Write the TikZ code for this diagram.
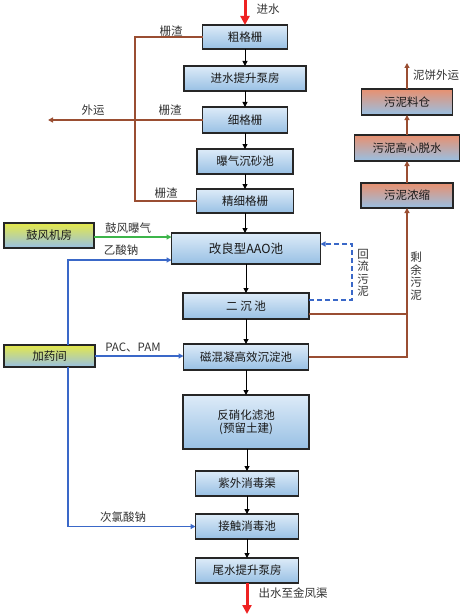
\documentclass[tikz,border=0pt]{standalone}
\usepackage{fontspec}
\setmainfont{Noto Sans CJK SC}
\usetikzlibrary{arrows.meta,calc}
\definecolor{bx}{HTML}{262626}
\definecolor{lbl}{HTML}{333333}
\definecolor{bl1}{HTML}{DDEBF8}
\definecolor{bl2}{HTML}{98C0E4}
\definecolor{org}{HTML}{E8906F}
\definecolor{ylw}{HTML}{E4E84A}
\definecolor{brn}{HTML}{9A4E32}
\definecolor{grn}{HTML}{3DB54A}
\definecolor{blu}{HTML}{3A68C8}
\definecolor{rd}{HTML}{EE2222}
\begin{document}
\begin{tikzpicture}[x=1pt,y=-1pt,
  box/.style={draw=bx,line width=1.3pt,top color=bl1,bottom color=bl2,
    inner sep=0pt,outer sep=0pt,text=black!90,font=\fontsize{11.5}{13}\selectfont},
  sbox/.style={box,top color=org,middle color=bl1!70!bl2,bottom color=bl2},
  ybox/.style={box,top color=ylw,middle color=ylw!50!bl2,bottom color=bl2},
  lab/.style={text=lbl,inner sep=0pt,font=\fontsize{11.5}{12.5}\selectfont},
  flow/.style={draw=black,line width=1pt,-{Triangle[length=5pt,width=5pt]}},
  brl/.style={draw=brn,line width=1.2pt},
  bra/.style={brl,-{Triangle[length=5pt,width=5pt]}},
  bla/.style={draw=blu,line width=1.2pt,-{Triangle[length=5pt,width=5pt]}},
  red/.style={draw=rd,line width=3pt,-{Triangle[length=9pt,width=9pt]}}]
\useasboundingbox (0,0) rectangle (472,615);
% main column
\node[box,minimum width=85pt,minimum height=24pt] (cgs) at (245,37) {粗格栅};
\node[box,minimum width=122pt,minimum height=25pt] (tsbf) at (245,78.5) {进水提升泵房};
\node[box,minimum width=85pt,minimum height=26pt] (xgs) at (245,120) {细格栅};
\node[box,minimum width=96pt,minimum height=25pt] (cs) at (245,161.5) {曝气沉砂池};
\node[box,minimum width=97pt,minimum height=24pt] (jxgs) at (245,201) {精细格栅};
\node[box,minimum width=149pt,minimum height=31pt,font=\fontsize{12.5}{14}\selectfont] (aao) at (246,248.5) {改良型AAO池};
\node[box,minimum width=126pt,minimum height=26pt] (ecc) at (246,306) {二\ 沉\ 池};
\node[box,minimum width=125pt,minimum height=26pt] (chn) at (246,357) {磁混凝高效沉淀池};
\node[box,minimum width=126pt,minimum height=54pt,align=center] (fxh) at (246,422) {反硝化滤池\\(预留土建)};
\node[box,minimum width=103pt,minimum height=25pt] (zw) at (247,483.5) {紫外消毒渠};
\node[box,minimum width=103pt,minimum height=25pt] (jc) at (247,526.5) {接触消毒池};
\node[box,minimum width=103pt,minimum height=25pt] (ws) at (247,570.5) {尾水提升泵房};
% left boxes
\node[ybox,minimum width=90pt,minimum height=25pt] (gf) at (49,235.5) {鼓风机房};
\node[ybox,minimum width=91pt,minimum height=22pt] (jy) at (49.5,356) {加药间};
% sludge column
\node[sbox,minimum width=91pt,minimum height=26pt] (lc) at (407,102) {污泥料仓};
\node[sbox,minimum width=105pt,minimum height=26pt] (ts) at (407,148) {污泥高心脱水};
\node[sbox,minimum width=92pt,minimum height=25pt] (ns) at (407,195.5) {污泥浓缩};
% coordinates
\coordinate (inw) at (245,0);
\coordinate (outw) at (247,614);
\coordinate (wy) at (48,120);
\coordinate (lx) at (135,0);
\coordinate (bx) at (68,260);
\coordinate (dx) at (352,244);
\coordinate (sx) at (407,63);
% main flow arrows
\draw[red] (inw) -- (cgs.north);
\draw[flow] (cgs) -- (tsbf);
\draw[flow] (tsbf) -- (xgs);
\draw[flow] (xgs) -- (cs);
\draw[flow] (cs) -- (jxgs);
\draw[flow] (jxgs.south) -- (jxgs.south |- aao.north);
\draw[flow] (aao.south -| ecc.north) -- (ecc.north);
\draw[flow] (ecc) -- (chn);
\draw[flow] (chn) -- (fxh);
\draw[flow] (fxh.south -| zw.north) -- (zw.north);
\draw[flow] (zw) -- (jc);
\draw[flow] (jc) -- (ws);
\draw[red] (ws.south) -- (outw);
% screenings
\draw[brl] (cgs.west) -| (lx |- jxgs.west) -- (jxgs.west);
\draw[bra] (xgs.west) -- (wy);
% air and chemicals
\draw[draw=grn,line width=1.2pt,-{Triangle[length=5pt,width=5pt]}] ([yshift=-1.5pt]gf.east) -- ([yshift=-1.5pt]gf.east -| aao.west);
\draw[bla] (jy.north -| bx) |- (aao.west |- bx);
\draw[bla] (jy.east) -- (jy.east -| chn.west);
\draw[bla] (jy.south -| bx) |- (jc.west);
% return sludge
\draw[draw=blu,line width=1.2pt,dash pattern=on 5pt off 3pt,-{Triangle[length=5pt,width=5pt]}] (ecc.east |- 0,300) -| (dx) -- (aao.east |- dx);
% excess sludge
\draw[brl] (ecc.east |- 0,314) -- (ns.south |- 0,314);
\draw[bra] (chn.east) -| (ns.south);
\draw[bra] (ns) -- (ts);
\draw[bra] (ts) -- (lc);
\draw[bra] (lc.north) -- (sx);
% labels
\node[lab] (l1) at (268,9) {进水};
\node[lab] (l2) at (171,31) {栅渣};
\node[lab] (l3) at (170,110) {栅渣};
\node[lab] (l4) at (166,193) {栅渣};
\node[lab] (l5) at (93,110) {外运};
\node[lab] (l6) at (128,228) {鼓风曝气};
\node[lab] (l7) at (121,250) {乙酸钠};
\node[lab] (l8) at (133,348) {PAC、PAM};
\node[lab,align=center] (l9) at (363,273) {回\\流\\污\\泥};
\node[lab,align=center] (l10) at (416,276) {剩\\余\\污\\泥};
\node[lab] (l11) at (436,75) {泥饼外运};
\node[lab] (l12) at (123,517) {次氯酸钠};
\node[lab] (l13) at (293,593) {出水至金凤渠};
\end{tikzpicture}
\end{document}
